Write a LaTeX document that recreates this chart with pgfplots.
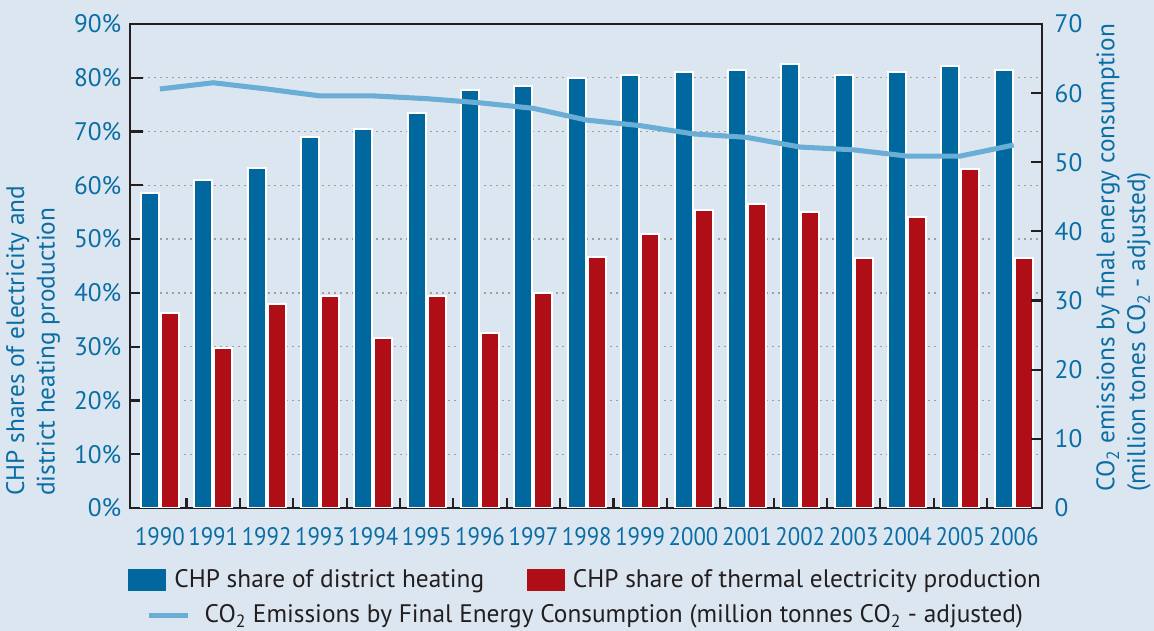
\documentclass[border=0pt]{standalone}
\usepackage{pgfplots}
\pgfplotsset{compat=1.18}
\usepackage{fontspec}
\setmainfont{PT Sans}
\definecolor{bgc}{RGB}{220,230,240}
\definecolor{barblue}{RGB}{0,104,158}
\definecolor{barred}{RGB}{176,14,23}
\definecolor{linec}{RGB}{106,174,214}
\definecolor{txtblue}{RGB}{10,110,165}
\definecolor{axc}{RGB}{35,31,32}
\begin{document}
\fontsize{19}{23}\selectfont
\begin{tikzpicture}[font=\fontsize{19}{23}\selectfont]
\path[fill=bgc, use as bounding box] (-97.5pt,-92.25pt) rectangle (768pt,381pt);
\begin{axis}[
  at={(0,0)}, anchor=south west,
  scale only axis, width=684pt, height=363pt,
  /pgf/number format/assume math mode=true,
  xmin=-0.56, xmax=16.53, ymin=0, ymax=90,
  ybar=1.5pt, bar width=13.5pt,
  axis line style={axc, line width=1.6pt},
  tick align=inside, ytick pos=left, xtick pos=bottom,
  ytick={0,10,...,90},
  yticklabel={\pgfmathprintnumber{\tick}\%},
  major tick length=9.5pt,
  every major y tick/.style={axc, line width=1.6pt},
  xtick={0,...,16},
  xticklabels={1990,1991,1992,1993,1994,1995,1996,1997,1998,1999,2000,2001,2002,2003,2004,2005,2006},
  every major x tick/.style={draw=none},
  minor xtick={0.5,1.5,...,15.5},
  minor tick length=7.5pt,
  every minor x tick/.style={axc, line width=1.6pt},
  ticklabel style={txtblue},
  xticklabel style={yshift=-8pt, xscale=0.9},
  ymajorgrids,
  grid style={dash pattern=on 1.5pt off 3pt, line width=1pt, gray!75},
  ylabel={CHP shares of electricity and\\district heating production},
  ylabel style={align=left, txtblue, at={(ticklabel cs:0)}, anchor=south west, inner sep=4pt, xshift=5pt},
  legend columns=2,
  legend style={at={(0.5,-0.149)}, anchor=center, draw=none, fill=none, text=axc,
    /tikz/every odd column/.append style={column sep=4pt},
    /tikz/every even column/.append style={column sep=30pt}},
  legend image code/.code={\fill[#1,draw=none] (0pt,-8.25pt) rectangle (28.5pt,8.25pt);},
]
\addplot[fill=barblue, draw=white, line width=1.5pt] coordinates {
(0,58.5) (1,60.9) (2,63.3) (3,68.9) (4,70.5) (5,73.4) (6,77.7) (7,78.5) (8,79.9)
(9,80.6) (10,81.1) (11,81.4) (12,82.5) (13,80.6) (14,81.1) (15,82.2) (16,81.4)};
\addlegendentry{CHP share of district heating}
\addplot[fill=barred, draw=white, line width=1.5pt] coordinates {
(0,36.2) (1,29.8) (2,37.9) (3,39.5) (4,31.7) (5,39.5) (6,32.5) (7,39.9) (8,46.7)
(9,50.9) (10,55.4) (11,56.5) (12,55.0) (13,46.4) (14,54.2) (15,63.0) (16,46.4)};
\addlegendentry{CHP share of thermal electricity production}
\end{axis}
\begin{axis}[
  at={(0,0)}, anchor=south west,
  scale only axis, width=684pt, height=363pt,
  /pgf/number format/assume math mode=true,
  xmin=-0.56, xmax=16.53, ymin=0, ymax=70,
  axis x line=none, axis y line*=right,
  axis line style={axc, line width=1.6pt, -},
  tick align=inside,
  ytick={0,10,...,70},
  major tick length=8.5pt,
  every major y tick/.style={axc, line width=1.6pt},
  ticklabel style={txtblue},
  yticklabel style={xshift=3pt},
  ylabel={CO\textsubscript{2} emissions by final energy consumption\\(million tones CO\textsubscript{2} - adjusted)},
  ylabel style={align=left, txtblue, at={(ticklabel cs:0)}, anchor=north west, inner sep=4pt, xshift=8pt},
  legend style={at={(0.5,-0.222)}, anchor=center, draw=none, fill=none, text=axc,
    /tikz/every odd column/.append style={column sep=9pt}},
  legend image code/.code={\draw[#1] (0pt,0pt) -- (29pt,0pt);},
]
\addplot[linec, line width=3.8pt, line join=round] coordinates {
(0,60.6) (1,61.5) (2,60.6) (3,59.6) (4,59.6) (5,59.2) (6,58.6) (7,57.8) (8,56.1)
(9,55.3) (10,54.1) (11,53.6) (12,52.2) (13,51.8) (14,50.9) (15,50.9) (16,52.5)};
\addlegendentry{CO\textsubscript{2} Emissions by Final Energy Consumption (million tonnes CO\textsubscript{2} - adjusted)}
\end{axis}
\end{tikzpicture}
\end{document}
